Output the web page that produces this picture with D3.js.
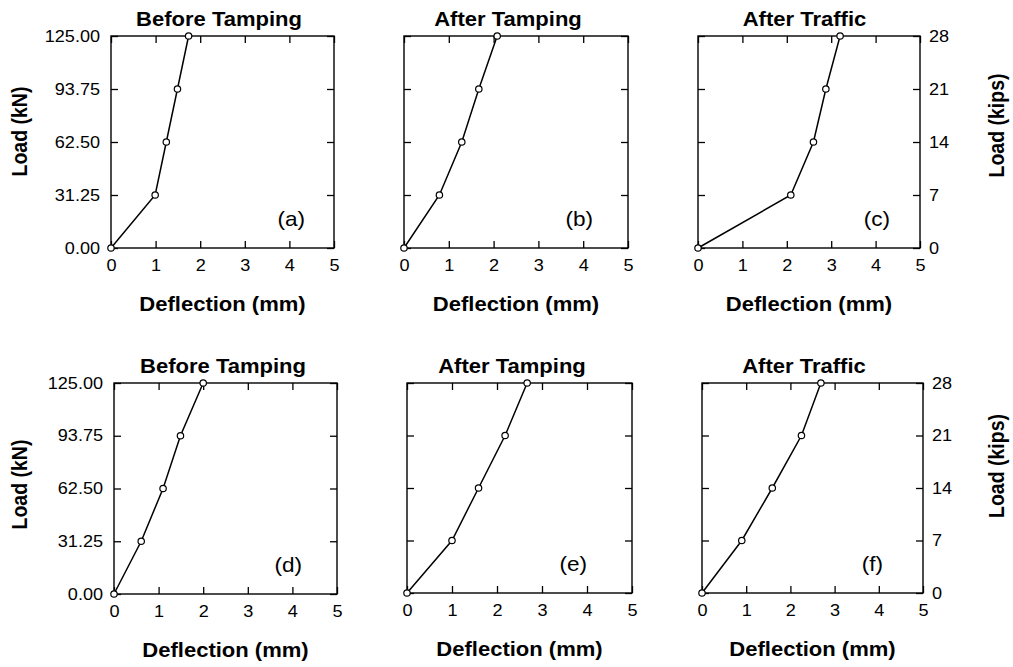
<!DOCTYPE html>
<html><head><meta charset="utf-8">
<script src="https://cdn.jsdelivr.net/npm/d3@7"></script>
<style>
body{margin:0;background:#fff}
svg{display:block;background:#fff}
text{font-family:"Liberation Sans",Arial,Helvetica,sans-serif;fill:#000}
</style>
</head><body>
<svg id="chart" width="1013" height="667"></svg>
<script>
// ---- data ----
const xTicks = [0, 1, 2, 3, 4, 5];
const kNTicks = [0, 31.25, 62.5, 93.75, 125];
const kipsTicks = [0, 7, 14, 21, 28];
const loads = [0, 31.25, 62.5, 93.75, 125];
const defA = [0, 0.99, 1.24, 1.49, 1.74];
const defB = [0, 0.79, 1.29, 1.67, 2.08];
const defC = [0, 2.09, 2.60, 2.88, 3.20];
const defD = [0, 0.61, 1.10, 1.49, 2.00];
const defE = [0, 1.00, 1.59, 2.18, 2.67];
const defF = [0, 0.90, 1.59, 2.25, 2.69];
const titles = ["Before Tamping", "After Tamping", "After Traffic", "Before Tamping", "After Tamping", "After Traffic"];
const tags = ["(a)", "(b)", "(c)", "(d)", "(e)", "(f)"];
const deflections = [defA, defB, defC, defD, defE, defF];
const xLabel = "Deflection (mm)";
const yLeftLabel = "Load (kN)";
const yRightLabel = "Load (kips)";

// ---- layout ----
const layout = [
  {l:111, r:334, t:36,  b:248, tdx:-3.5, gdx:-29, col:0, ly:131.5},
  {l:404, r:628, t:36,  b:248, tdx:-8,   gdx:-35, col:1},
  {l:698, r:920, t:36,  b:248, tdx:-4.5, gdx:-30, col:2, ry:125.5},
  {l:114, r:337, t:383, b:594, tdx:-2.5, gdx:-35, col:0, ly:484.5},
  {l:407, r:632, t:383, b:593, tdx:-7.5, gdx:-45, col:1},
  {l:702, r:923, t:383, b:593, tdx:-8.5, gdx:-40, col:2, ry:466}
];
const SX = 1.13;
const svg = d3.select("#chart");

function stretched(g, x, y, str, size, weight, anchor, rotate) {
  const tr = rotate
    ? `translate(${x},${y}) rotate(-90) scale(1,${SX})`
    : `translate(${x},${y}) scale(${SX},1)`;
  return g.append("text")
    .attr("transform", tr)
    .attr("text-anchor", anchor)
    .attr("font-size", size)
    .attr("font-weight", weight)
    .text(str);
}

function styleAxis(g, xPad) {
  g.select(".domain").remove();
  g.selectAll(".tick line").attr("stroke", "#000").attr("stroke-width", 1.3);
  g.attr("font-family", null).attr("font-size", null);
  g.selectAll("text")
    .attr("font-size", 16)
    .attr("fill", "#000")
    .attr("transform", `scale(${SX},1)`);
  if (xPad !== undefined) g.selectAll("text").attr("x", xPad / SX);
}

layout.forEach((p, i) => {
  const g = svg.append("g");
  const x = d3.scaleLinear().domain([0, 5]).range([p.l, p.r]);
  const y = d3.scaleLinear().domain([0, 125]).range([p.b, p.t]);
  const yk = d3.scaleLinear().domain([0, 28]).range([p.b, p.t]);

  const gb = g.append("g").attr("transform", `translate(0,${p.b})`)
    .call(d3.axisBottom(x).tickValues(xTicks).tickSize(-7).tickSizeOuter(0).tickPadding(11.5).tickFormat(d3.format("d")));
  styleAxis(gb);
  const gt = g.append("g").attr("transform", `translate(0,${p.t})`)
    .call(d3.axisTop(x).tickValues(xTicks).tickSize(-7).tickSizeOuter(0).tickFormat(""));
  styleAxis(gt);
  const gl = g.append("g").attr("transform", `translate(${p.l},0)`)
    .call(d3.axisLeft(y).tickValues(kNTicks).tickSize(-7).tickSizeOuter(0)
      .tickFormat(p.col === 0 ? d3.format(".2f") : ""));
  styleAxis(gl, -11);
  const gr = g.append("g").attr("transform", `translate(${p.r},0)`)
    .call(d3.axisRight(yk).tickValues(kipsTicks).tickSize(-7).tickSizeOuter(0)
      .tickFormat(p.col === 2 ? d3.format("d") : ""));
  styleAxis(gr, 9);

  g.append("rect").attr("x", p.l).attr("y", p.t)
    .attr("width", p.r - p.l).attr("height", p.b - p.t)
    .attr("fill", "none").attr("stroke", "#000").attr("stroke-width", 1.4);

  const pts = deflections[i].map((d, k) => [d, loads[k]]);
  g.append("path").datum(pts)
    .attr("d", d3.line().x(d => x(d[0])).y(d => y(d[1])))
    .attr("fill", "none").attr("stroke", "#000").attr("stroke-width", 1.5);
  g.selectAll("circle").data(pts).join("circle")
    .attr("cx", d => x(d[0])).attr("cy", d => y(d[1])).attr("r", 3.2)
    .attr("fill", "#fff").attr("stroke", "#000").attr("stroke-width", 1.2);

  const cx = (p.l + p.r) / 2;
  stretched(g, cx + p.tdx, p.t - 10, titles[i], 19.5, "bold", "middle");
  stretched(g, cx, p.b + 62.5, xLabel, 19.5, "bold", "middle");
  stretched(g, p.r + p.gdx, p.b - 22, tags[i], 20, "normal", "end");

  if (p.col === 0) stretched(g, 27, p.ly, yLeftLabel, 19.5, "bold", "middle", true);
  if (p.col === 2) stretched(g, 1004, p.ry, yRightLabel, 19.5, "bold", "middle", true);
});
</script>
</body></html>
